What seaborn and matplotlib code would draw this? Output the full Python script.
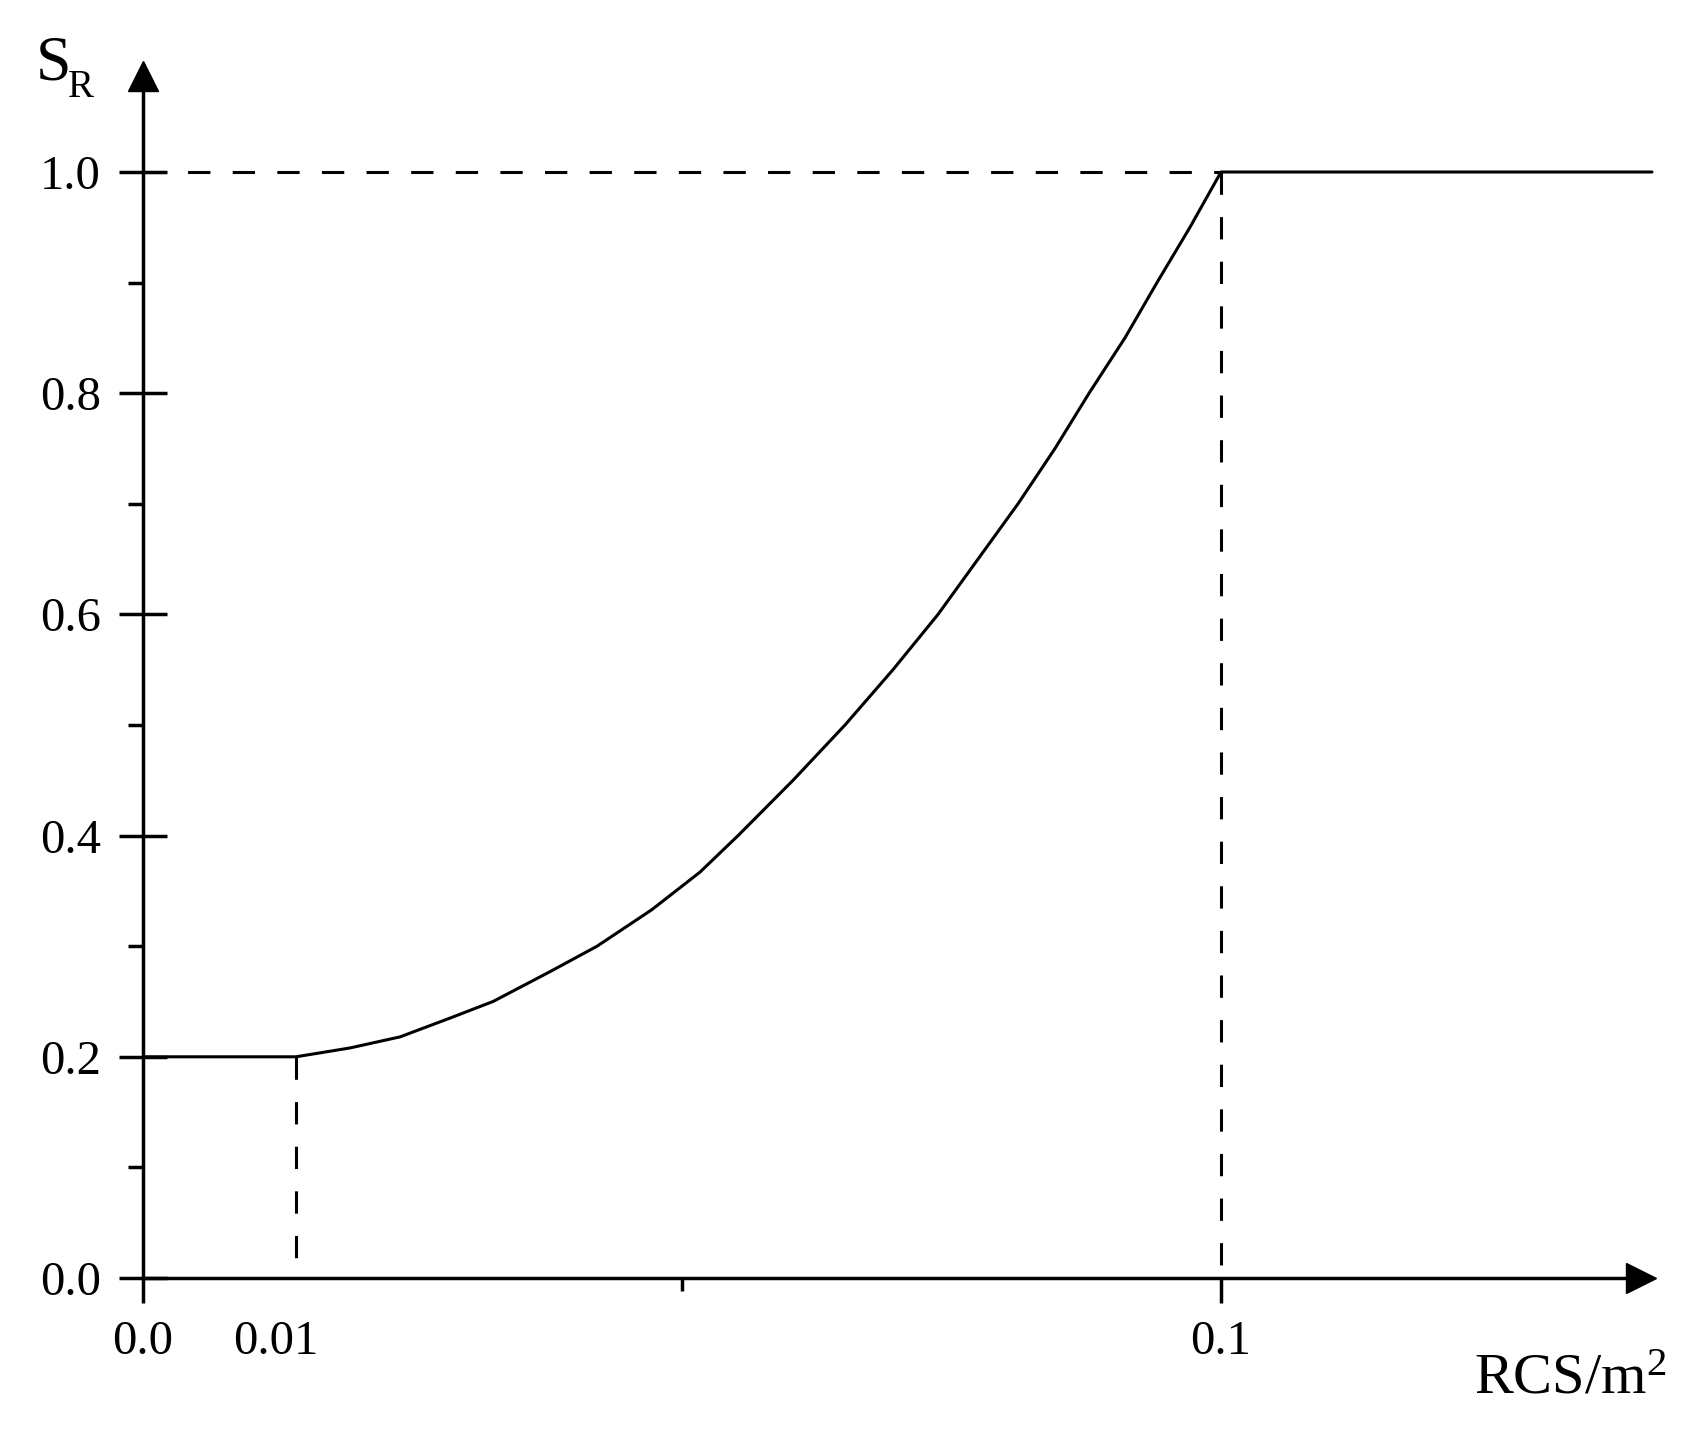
import matplotlib
matplotlib.use("Agg")
import matplotlib.pyplot as plt
import seaborn as sns
import pandas as pd

# ---- data ----
rcs = [0.0, 0.01419, 0.01920, 0.02384, 0.02848, 0.03247, 0.03776, 0.04212,
       0.04720, 0.05167, 0.05520, 0.06030, 0.06512, 0.06957, 0.07375,
       0.07746, 0.08117, 0.08460, 0.08776, 0.09109, 0.09406, 0.09712,
       0.10000, 0.13998]
sr = [0.2, 0.2, 0.208, 0.218, 0.235, 0.25, 0.277, 0.30,
      0.333, 0.367, 0.40, 0.45, 0.50, 0.55, 0.60,
      0.65, 0.70, 0.75, 0.80, 0.85, 0.90, 0.95,
      1.0, 1.0]
knee_low = (0.01419, 0.2)
knee_high = (0.1, 1.0)
xtick_pos = [0.0, 0.01234, 0.1]
xtick_labels = ["0.0", "0.01", "0.1"]
xminor = [0.05]
ytick_pos = [0.0, 0.2, 0.4, 0.6, 0.8, 1.0]
ytick_labels = ["0.0", "0.2", "0.4", "0.6", "0.8", "1.0"]
yminor = [0.1, 0.3, 0.5, 0.7, 0.9]

sns.set_theme(style="ticks")
plt.rcParams['font.family'] = ['Liberation Serif', 'DejaVu Serif']
plt.rcParams['mathtext.fontset'] = 'custom'
plt.rcParams['mathtext.rm'] = 'Liberation Serif'
plt.rcParams['mathtext.it'] = 'Liberation Serif:italic'

W, H = 1706, 1430
fig = plt.figure(figsize=(W / 100, H / 100), dpi=100)
ax = fig.add_axes([143 / W, 152 / H, (1641 - 143) / W, (1354 - 152) / H])

df = pd.DataFrame({"RCS": rcs, "SR": sr})
lw_axis = 2.5
lw_line = 2.2
sns.lineplot(data=df, x="RCS", y="SR", ax=ax, color="black", lw=lw_line,
             sort=False, estimator=None, clip_on=False)

dash = (0, (7.3, 7.3))
ax.plot([0, knee_high[0]], [knee_high[1], knee_high[1]], color="black",
        lw=lw_line, linestyle=dash)
ax.plot([knee_low[0], knee_low[0]], [knee_low[1], 0], color="black",
        lw=lw_line, linestyle=dash)
ax.plot([knee_high[0], knee_high[0]], [knee_high[1], 0], color="black",
        lw=lw_line, linestyle=dash)

ax.set_xlim(0, 0.13896)
ax.set_ylim(0, 1.0868)

for s in ["top", "right"]:
    ax.spines[s].set_visible(False)
for s in ["left", "bottom"]:
    ax.spines[s].set_linewidth(lw_axis)
    ax.spines[s].set_color("black")

# arrow heads
ax.plot(1, 0, marker=">", ms=21, color="black", transform=ax.get_yaxis_transform(),
        clip_on=False)
ax.plot(0, 1, marker="^", ms=21, color="black", transform=ax.get_xaxis_transform(),
        clip_on=False)

ax.set_yticks(ytick_pos)
ax.set_yticklabels(ytick_labels)
ax.set_yticks(yminor, minor=True)
ax.set_xticks(xtick_pos)
ax.set_xticklabels(xtick_labels)
ax.set_xticks(xminor, minor=True)

ax.tick_params(axis="y", which="major", direction="inout", length=35,
               width=lw_axis, pad=13, labelsize=35, colors="black")
ax.tick_params(axis="y", which="minor", direction="out", length=10.5,
               width=lw_axis, colors="black")
ax.tick_params(axis="x", which="major", direction="out", length=18,
               width=lw_axis, pad=12, labelsize=35, colors="black")
ax.tick_params(axis="x", which="minor", direction="out", length=9.5,
               width=lw_axis, colors="black")
ax.xaxis.get_major_ticks()[1].tick1line.set_visible(False)

ax.set_xlabel("")
ax.set_ylabel("")

fig.text(36 / W, 1 - 80 / H, "S", fontsize=46,
         ha="left", va="baseline", color="black")
fig.text(68 / W, 1 - 97 / H, "R", fontsize=28,
         ha="left", va="baseline", color="black")
fig.text(1474 / W, 1 - 1393 / H, r"RCS/m$^\mathregular{2}$", fontsize=42,
         ha="left", va="baseline", color="black")

fig.savefig("out.png", dpi=100, facecolor="white")
